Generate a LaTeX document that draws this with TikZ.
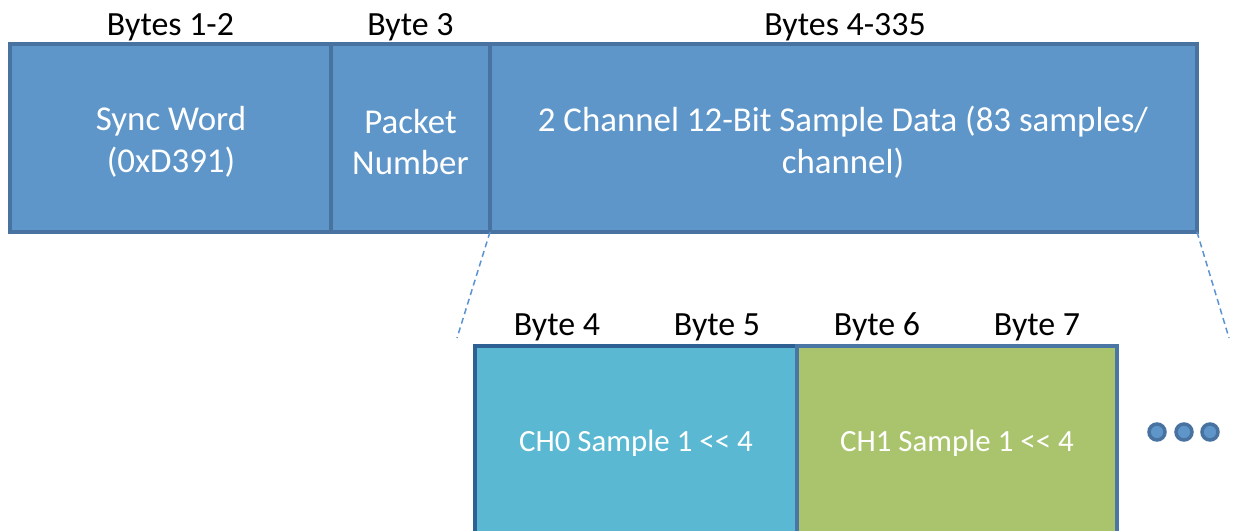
\documentclass[tikz,border=0pt]{standalone}
\usepackage{fontspec}
\setmainfont{Carlito}[Ligatures=NoCommon]
\definecolor{fieldfill}{HTML}{5F96C9}
\definecolor{fielddraw}{HTML}{48729F}
\definecolor{chzerofill}{HTML}{5BB8D2}
\definecolor{chzerodraw}{HTML}{2E6094}
\definecolor{chonefill}{HTML}{AAC46D}
\definecolor{chonedraw}{HTML}{4A76A5}
\definecolor{zoomline}{HTML}{5B93D2}
\tikzset{
  field/.style={draw=fielddraw, fill=fieldfill, line width=3.5bp},
  fieldtext/.style={text=white, font=\fontsize{35}{42}\selectfont, align=center, inner sep=0pt},
  bytelabel/.style={text=black, font=\fontsize{34}{40}\selectfont, anchor=base, inner sep=0pt},
  sampletext/.style={text=white, font=\fontsize{31}{36}\selectfont, anchor=base, inner sep=0pt},
  zoomedge/.style={draw=zoomline, line width=1.5bp, dash pattern=on 6bp off 4bp},
  moredot/.style={circle, draw=fielddraw, fill=fieldfill, line width=3.5bp, minimum size=16bp, inner sep=0pt}
}
\begin{document}
\begin{tikzpicture}[x=1bp, y=-1bp]
\useasboundingbox (0,0) rectangle (1235,531);
\clip (0,0) rectangle (1235,531);

% packet header fields
\draw[field] (10,44) rectangle (331,232);
\draw[field] (331,44) rectangle (490,232);
\draw[field] (490,44) rectangle (1197,232);
\coordinate (dataL) at (490,232);
\coordinate (dataR) at (1197,232);

\node[fieldtext] (sync) at (171,142) {Sync Word\\(0xD391)};
\node[fieldtext] (pkt) at (410.5,142) {Packet\\Number};
\node[fieldtext] (data) at (843,142) {2 Channel 12-Bit Sample Data (83 samples/\\channel)};

\node[bytelabel] (b12) at (170.5,36) {Bytes 1-2};
\node[bytelabel] (b3) at (410.5,36) {Byte 3};
\node[bytelabel] (b4335) at (845,36) {Bytes 4-335};

% expanded sample words
\draw[draw=chzerodraw, fill=chzerofill, line width=3.5bp] (475,346) rectangle (797,560);
\draw[draw=chonedraw, fill=chonefill, line width=3.5bp] (797,346) rectangle (1117,560);
\coordinate (zoomL) at (457,338);
\coordinate (zoomR) at (1229,338);

\node[sampletext] (ch0) at (636,451) {CH0 Sample 1 <{}< 4};
\node[sampletext] (ch1) at (957,451) {CH1 Sample 1 <{}< 4};

\node[bytelabel] (b4) at (557,336) {Byte 4};
\node[bytelabel] (b5) at (717,336) {Byte 5};
\node[bytelabel] (b6) at (877,336) {Byte 6};
\node[bytelabel] (b7) at (1037,336) {Byte 7};

% zoom guides from the data field
\draw[zoomedge] (dataL) -- (zoomL);
\draw[zoomedge] (dataR) -- (zoomR);

% continuation dots
\node[moredot] (d1) at (1157,432) {};
\node[moredot] (d2) at (1184,432) {};
\node[moredot] (d3) at (1210,432) {};
\end{tikzpicture}
\end{document}
